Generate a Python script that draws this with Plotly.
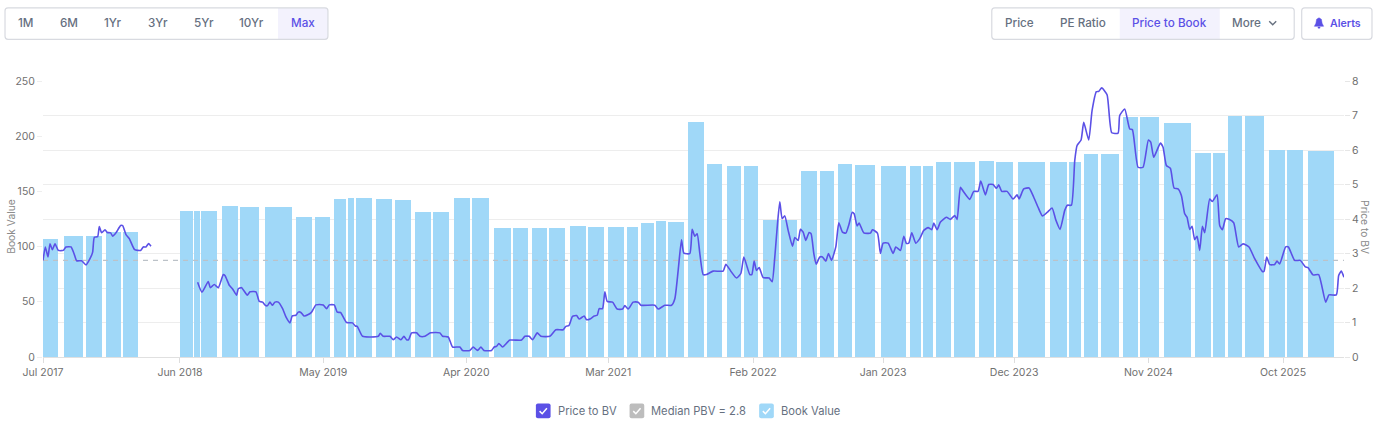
import plotly.graph_objects as go

# ---------- data (x in chart position units: 3 units per plotted pixel, irregular trading calendar) ----------
tick_positions = [0, 411, 841, 1270, 1696, 2131, 2521, 2914, 3317, 3721]
tick_labels = ["Jul 2017", "Jun 2018", "May 2019", "Apr 2020", "Mar 2021", "Feb 2022",
               "Jan 2023", "Dec 2023", "Nov 2024", "Oct 2025"]

book_start = [0, 63, 128, 189, 239, 412, 453, 475, 537, 592, 667, 760, 816, 872, 915, 939, 1000, 1056, 1116, 1171,
              1232, 1287, 1353, 1411, 1467, 1519, 1580, 1635, 1696, 1751, 1795, 1840, 1876, 1936, 1992, 2052, 2103,
              2160, 2216, 2276, 2331, 2387, 2436, 2515, 2602, 2641, 2679, 2735, 2809, 2860, 2927, 3022, 3080, 3123,
              3175, 3242, 3293, 3364, 3458, 3512, 3557, 3608, 3679, 3733, 3796]
book_end = [45, 120, 176, 234, 284, 450, 471, 523, 584, 649, 746, 808, 861, 909, 934, 987, 1047, 1103, 1164, 1219,
            1280, 1338, 1404, 1456, 1512, 1567, 1628, 1683, 1744, 1786, 1832, 1868, 1922, 1983, 2039, 2096, 2147,
            2208, 2263, 2323, 2375, 2428, 2496, 2590, 2636, 2671, 2724, 2796, 2853, 2912, 3007, 3073, 3115, 3166,
            3229, 3286, 3348, 3444, 3506, 3548, 3599, 3665, 3727, 3782, 3873]
book_value = [106.5, 109.8, 109.5, 112.8, 112.8, 132.7, 132.7, 132.4, 136.6, 136.0, 136.0, 126.7, 127.0, 143.5, 144.4,
              144.0, 143.0, 142.6, 130.9, 130.9, 143.8, 144.2, 117.1, 117.1, 116.8, 116.8, 118.4, 118.0, 117.4, 117.4,
              121.7, 122.9, 122.6, 212.9, 175.1, 173.3, 173.0, 124.1, 124.1, 168.5, 168.5, 174.8, 174.2, 173.3, 173.3,
              172.8, 176.4, 176.4, 177.3, 177.0, 176.7, 176.4, 176.4, 184.3, 184.3, 217.0, 217.0, 211.7, 184.9, 184.9,
              218.0, 218.0, 187.9, 187.3, 187.0]

pbv_pos = [0, 7, 15, 21, 28, 36, 46, 61, 69, 84, 93, 101, 116, 129, 141, 149, 154, 164, 169, 176, 186, 193, 203, 209,
           219, 233, 239, 249, 259, 275, 293, 301, 309, 317, 324,
           390,
           464, 477, 496, 502, 514, 526, 541, 546, 559, 569, 581, 586, 596, 613, 621, 639, 649, 659, 668, 674, 681,
           688, 696, 706, 719, 729, 741, 748, 759, 766, 773, 783, 796, 806, 819, 841, 851, 859, 874, 883, 893, 911,
           929, 937, 943, 959, 1006, 1012, 1021, 1041, 1051, 1061, 1074, 1083, 1091, 1097, 1106, 1121, 1131, 1146,
           1163, 1191, 1199, 1216, 1229, 1251,
           1259, 1281, 1291, 1304, 1314, 1323, 1346, 1354, 1361, 1368, 1379, 1401, 1436, 1446, 1459, 1469, 1483, 1494,
           1521, 1539, 1561, 1569, 1578, 1589, 1601, 1609, 1624, 1631, 1643, 1654, 1663, 1669, 1679, 1686, 1693, 1709,
           1723, 1739, 1746, 1756, 1771, 1786, 1794, 1836, 1846, 1866, 1886, 1896, 1906, 1916, 1923, 1941, 1948, 1956,
           1963, 1971, 1981, 1991, 2011, 2041, 2049, 2066, 2081, 2094, 2103, 2113, 2121, 2127, 2134, 2141, 2149, 2161,
           2179, 2188, 2196, 2204, 2211, 2218, 2226, 2236, 2249, 2256, 2266, 2273, 2281, 2289, 2299, 2305, 2313, 2320,
           2331, 2339, 2349, 2357, 2366, 2379, 2388, 2399, 2409, 2419, 2428, 2434, 2443, 2449, 2463, 2483, 2489, 2504,
           2513, 2521, 2536, 2551, 2559, 2573, 2583, 2591, 2598, 2607, 2619, 2631,
           2643, 2656, 2667, 2673, 2683, 2693, 2711, 2723, 2736, 2743, 2753, 2761, 2781, 2793, 2806, 2814, 2828, 2838,
           2851, 2861, 2868, 2877, 2893, 2911, 2923, 2929, 2943, 2959, 2973, 2986, 2999, 3013, 3028, 3039, 3052, 3066,
           3074, 3086, 3096, 3103, 3115, 3123, 3138, 3148, 3161, 3168, 3177, 3193, 3207, 3226, 3231, 3246, 3261, 3269,
           3286, 3301, 3317, 3324, 3333, 3353, 3361, 3371, 3383, 3394, 3406, 3416, 3426, 3433, 3441, 3448, 3456, 3463,
           3471, 3479, 3486, 3501, 3509, 3523, 3531, 3539, 3549, 3559, 3573, 3588, 3601, 3619, 3636, 3659, 3664, 3672,
           3681, 3696, 3703, 3711, 3729, 3737, 3756, 3773, 3788, 3796, 3811, 3828, 3849, 3859, 3881, 3888, 3896, 3904]
pbv = [2.8, 3.19, 2.9, 3.28, 3.11, 3.28, 3.09, 3.09, 3.19, 3.19, 3.0, 2.79, 2.79, 2.67, 2.85, 3.04, 3.47, 3.49, 3.78,
       3.6, 3.69, 3.61, 3.6, 3.5, 3.6, 3.81, 3.81, 3.55, 3.43, 3.11, 3.09, 3.19, 3.19, 3.29, 3.21,
       None,
       2.17, 1.88, 2.19, 2.01, 2.1, 2.01, 2.39, 2.36, 2.08, 1.97, 1.79, 1.98, 2.01, 1.79, 1.89, 1.89, 1.61, 1.59, 1.49,
       1.49, 1.59, 1.5, 1.59, 1.59, 1.4, 1.16, 0.99, 1.19, 1.21, 1.3, 1.3, 1.19, 1.23, 1.3, 1.51, 1.51, 1.4, 1.51, 1.51,
       1.3, 1.29, 1.0, 0.99, 0.9, 0.89, 0.6, 0.6, 0.69, 0.6, 0.6, 0.5, 0.58, 0.5, 0.6, 0.5, 0.5, 0.7, 0.7, 0.6, 0.6,
       0.7, 0.7, 0.6, 0.58, 0.29, 0.29,
       0.19, 0.19, 0.29, 0.19, 0.29, 0.19, 0.19, 0.29, 0.31, 0.39, 0.29, 0.49, 0.49, 0.6, 0.6, 0.5, 0.7, 0.6,
       0.6, 0.79, 0.79, 0.89, 0.91, 1.18, 1.2, 1.1, 1.19, 1.08, 1.11, 1.19, 1.21, 1.4, 1.4, 1.89, 1.61, 1.59,
       1.39, 1.39, 1.49, 1.39, 1.59, 1.59, 1.5, 1.5, 1.39, 1.5, 1.5, 1.69, 2.51, 3.4, 3.01, 3.0, 3.7, 3.5,
       3.57, 3.0, 2.39, 2.39, 2.49, 2.49, 2.69, 2.46, 2.29, 2.42, 2.9, 2.61, 2.39, 2.39, 2.78, 2.51, 2.59, 2.3,
       2.29, 2.18, 2.9, 3.86, 4.5, 4.01, 4.09, 3.67, 3.21, 3.46, 3.38, 3.7, 3.62, 3.38, 3.61, 3.57, 3.0, 2.69,
       2.9, 2.9, 2.78, 3.0, 2.8, 3.19, 3.89, 3.62, 3.59, 3.86, 4.19, 4.15, 3.8, 3.88, 3.6, 3.59, 3.69, 3.59,
       3.0, 3.3, 3.3, 3.0, 3.19, 3.09, 3.5, 3.29, 3.3, 3.6, 3.3, 3.43,
       3.67, 3.75, 3.69, 3.88, 3.69, 3.91, 4.05, 3.99, 4.1, 3.99, 4.92, 4.81, 4.57, 4.8, 4.8, 5.1, 4.7, 5.0,
       5.0, 4.89, 4.99, 4.8, 4.8, 4.58, 4.7, 4.58, 4.87, 4.9, 4.63, 4.34, 4.09, 4.19, 4.32, 3.98, 3.7, 4.25,
       4.4, 4.4, 5.69, 6.13, 6.29, 6.8, 6.29, 7.14, 7.69, 7.7, 7.8, 7.6, 6.5, 6.49, 7.0, 7.19, 6.61, 6.59,
       5.5, 5.5, 6.29, 6.23, 5.79, 6.2, 6.08, 5.55, 5.47, 4.9, 4.87, 4.68, 4.15, 4.05, 3.7, 3.79, 3.4, 3.5,
       3.09, 3.79, 3.6, 4.58, 4.51, 4.7, 3.81, 3.69, 4.01, 3.99, 3.89, 3.19, 3.28, 3.19, 2.85, 2.48, 2.48, 2.9,
       2.68, 2.68, 2.78, 2.7, 3.19, 3.19, 2.8, 2.8, 2.61, 2.59, 2.38, 2.39, 1.59, 1.8, 1.8, 2.36, 2.49, 2.31]

median_pbv = 2.8
median_span = [0, 3904]

range_buttons = ["1M", "6M", "1Yr", "3Yr", "5Yr", "10Yr", "Max"]
metric_buttons = ["Price", "PE Ratio", "Price to Book", "More"]

# ---------- style ----------
FONT = "Inter, 'Noto Sans', sans-serif"
PURPLE = "#5B50E6"
BAR = "#A0D8F8"
GREY_BOX = "#BDBDBD"
TEXT = "#66707F"
AXIS_TEXT = "#707070"
BORDER = "#D8DAE0"
ACTIVE = "#F3F2FD"
L, R, T, B = 43.0, 1344.3, 80.7, 356.7
W, H = 1380, 428


def px(x):
    return (x - L) / (R - L)


def py(y):
    return (B - y) / (B - T)


def poly(points, close=False):
    s = "M " + " L ".join(f"{px(a):.5f},{py(b):.5f}" for a, b in points)
    return s + (" Z" if close else "")


def rrect(x0, y0, x1, y1, r):
    c = f"M {px(x0 + r):.5f},{py(y0):.5f} L {px(x1 - r):.5f},{py(y0):.5f} "
    c += f"Q {px(x1):.5f},{py(y0):.5f} {px(x1):.5f},{py(y0 + r):.5f} "
    c += f"L {px(x1):.5f},{py(y1 - r):.5f} Q {px(x1):.5f},{py(y1):.5f} {px(x1 - r):.5f},{py(y1):.5f} "
    c += f"L {px(x0 + r):.5f},{py(y1):.5f} Q {px(x0):.5f},{py(y1):.5f} {px(x0):.5f},{py(y1 - r):.5f} "
    c += f"L {px(x0):.5f},{py(y0 + r):.5f} Q {px(x0):.5f},{py(y0):.5f} {px(x0 + r):.5f},{py(y0):.5f} Z"
    return c


shapes = []
annotations = []


def add_shape(path, fill="rgba(0,0,0,0)", line=None, width=1.0):
    shapes.append(dict(type="path", path=path, xref="paper", yref="paper", fillcolor=fill, layer="above",
                       line=dict(color=line if line else "rgba(0,0,0,0)", width=width if line else 0)))


def add_text(text, x, y, color=TEXT, size=12.5, anchor="center", weight=400, angle=0):
    annotations.append(dict(text=text, x=px(x), y=py(y), xref="paper", yref="paper", showarrow=False,
                            textangle=angle, borderpad=0, borderwidth=0,
                            xanchor=anchor, yanchor="middle", font=dict(family=FONT, size=size, color=color, weight=weight)))


# button groups
add_shape(rrect(278, 7.5, 327.8, 39, 1), fill=ACTIVE)
add_shape(rrect(5, 7.5, 328, 39, 3), line=BORDER, width=1.2)
for label, cx in zip(range_buttons, [26, 69.5, 113.5, 158.5, 204, 252, 303]):
    add_text(label, cx, 23, color=PURPLE if label == "Max" else TEXT, size=11.7, weight=500)

add_shape(rrect(1120, 7.5, 1220, 39, 0.5), fill=ACTIVE)
add_shape(rrect(992, 7.5, 1294.5, 39, 3), line=BORDER, width=1.2)
for label, cx in zip(metric_buttons, [1019.7, 1083.5, 1169.7, 1247]):
    add_text(label, cx, 23, color=PURPLE if label == "Price to Book" else TEXT, size=11.7, weight=500)
add_shape(poly([(1269.5, 21), (1273, 24.5), (1276.5, 21)]), line=TEXT, width=1.4)

add_shape(rrect(1302, 7.5, 1372.3, 39, 3), line=BORDER, width=1.2)
add_text("Alerts", 1346, 23, color=PURPLE, size=10.6, weight=600)
add_shape(poly([(1319.3, 17.5), (1321.7, 19), (1322.4, 23), (1323.9, 26), (1314.7, 26), (1316.2, 23), (1316.9, 19)], True),
          fill=PURPLE, line=PURPLE, width=0.5)
add_shape(rrect(1318, 26.5, 1320.6, 28.3, 0.8), fill=PURPLE)

# legend
legend_items = [("Price to BV", 536, PURPLE, 557.7), ("Median PBV = 2.8", 629.7, GREY_BOX, 651.3), ("Book Value", 759.3, BAR, 781)]
for label, x0, color, tx in legend_items:
    add_shape(rrect(x0, 403.3, x0 + 14.7, 418, 2), fill=color)
    add_shape(poly([(x0 + 3.7, 410.8), (x0 + 6.3, 413.4), (x0 + 11, 408)]), line="#FFFFFF", width=1.5)
    add_text(label, tx, 410.3, color=TEXT, size=11.2, anchor="left")

# axis titles, placed where the reference has them
add_text("Book Value", 11, 226.5, color="#8A8A8A", size=10.3, angle=-90)
add_text("Price to BV", 1366, 226.5, color="#8A8A8A", size=10.3, angle=90)

fig = go.Figure()
fig.add_trace(go.Bar(
    x=[(a + b) / 2 for a, b in zip(book_start, book_end)],
    y=book_value,
    width=[b - a for a, b in zip(book_start, book_end)],
    name="Book Value",
    marker=dict(color=BAR, line=dict(width=0)),
    yaxis="y",
))
fig.add_trace(go.Scatter(
    x=median_span, y=[median_pbv, median_pbv], mode="lines", name="Median PBV = 2.8",
    line=dict(color="#BCC2C8", width=1.4, dash="5px,5px"), yaxis="y2",
))
fig.add_trace(go.Scatter(
    x=pbv_pos, y=pbv, mode="lines", name="Price to BV", connectgaps=False,
    line=dict(color=PURPLE, width=1.6, shape="spline", smoothing=0.5), yaxis="y2",
))

axis_font = dict(family=FONT, size=10.5, color=AXIS_TEXT)
fig.update_layout(
    width=W, height=H, autosize=False,
    margin=dict(l=L, r=W - R, t=T, b=H - B, pad=0),
    paper_bgcolor="white", plot_bgcolor="white",
    showlegend=False, bargap=0,
    shapes=shapes, annotations=annotations,
    font=dict(family=FONT),
    xaxis=dict(range=[0, 3904], tickmode="array", tickvals=tick_positions, ticktext=tick_labels, automargin=False,
               showgrid=False, zeroline=False, showline=True, linecolor="#E0E0E0", linewidth=1,
               ticks="outside", ticklen=5, tickcolor="#DDDDDD", tickfont=axis_font),
    yaxis=dict(range=[0, 250], tickmode="array", tickvals=[0, 50, 100, 150, 200, 250], automargin=False,
               showgrid=False, zeroline=False, ticks="outside", ticklen=5, tickcolor="#EEEEEE", tickfont=axis_font),
    yaxis2=dict(range=[0, 8], overlaying="y", side="right", tickmode="array", tickvals=list(range(9)), automargin=False,
                showgrid=True, gridcolor="#EDEDED", gridwidth=1, zeroline=False,
                ticks="outside", ticklen=5, tickcolor="#E6E6E6", tickfont=axis_font),
)

fig.write_html("out.html", config=dict(displayModeBar=False),
               post_script="document.body.style.margin='0';document.body.style.overflow='hidden';")
